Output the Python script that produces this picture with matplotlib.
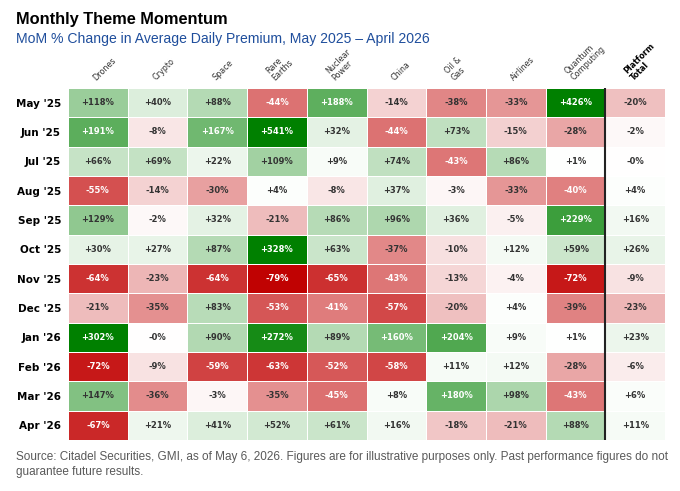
import numpy as np
import matplotlib
matplotlib.use("Agg")
import matplotlib.pyplot as plt
from matplotlib.colors import LinearSegmentedColormap, TwoSlopeNorm

# --- data ---
themes = ["Drones", "Crypto", "Space", "Rare\nEarths", "Nuclear\nPower", "China",
          "Oil &\nGas", "Airlines", "Quantum\nComputing", "Platform\nTotal"]
months = ["May '25", "Jun '25", "Jul '25", "Aug '25", "Sep '25", "Oct '25",
          "Nov '25", "Dec '25", "Jan '26", "Feb '26", "Mar '26", "Apr '26"]

may_25 = [118, 40, 88, -44, 188, -14, -38, -33, 426, -20]
jun_25 = [191, -8, 167, 541, 32, -44, 73, -15, -28, -2]
jul_25 = [66, 69, 22, 109, 9, 74, -43, 86, 1, -0.2]
aug_25 = [-55, -14, -30, 4, -8, 37, -3, -33, -40, 4]
sep_25 = [129, -2, 32, -21, 86, 96, 36, -5, 229, 16]
oct_25 = [30, 27, 87, 328, 63, -37, -10, 12, 59, 26]
nov_25 = [-64, -23, -64, -79, -65, -43, -13, -4, -72, -9]
dec_25 = [-21, -35, 83, -53, -41, -57, -20, 4, -39, -23]
jan_26 = [302, -0.2, 90, 272, 89, 160, 204, 9, 1, 23]
feb_26 = [-72, -9, -59, -63, -52, -58, 11, 12, -28, -6]
mar_26 = [147, -36, -3, -35, -45, 8, 180, 98, -43, 6]
apr_26 = [-67, 21, 41, 52, 61, 16, -18, -21, 88, 11]

vals = np.array([may_25, jun_25, jul_25, aug_25, sep_25, oct_25,
                 nov_25, dec_25, jan_26, feb_26, mar_26, apr_26], dtype=float)

# --- escala de color: rojo / blanco / verde ---
cmap = LinearSegmentedColormap.from_list("mom", ["#c00000", "#ffffff", "#008000"])
norm = TwoSlopeNorm(vmin=-80, vcenter=0, vmax=300)

fig = plt.figure(figsize=(6.8, 4.91), dpi=100)
ax = fig.add_axes([0.1, 0.104, 0.878, 0.717])

n_rows, n_cols = vals.shape
ax.pcolormesh(np.arange(n_cols + 1), np.arange(n_rows + 1), vals,
              cmap=cmap, norm=norm, edgecolors="white", linewidth=0.5)
ax.set_xlim(0, n_cols)
ax.set_ylim(n_rows, 0)

# valores en cada celda
for r in range(n_rows):
    for c in range(n_cols):
        v = vals[r, c]
        frac = v / -80 if v < 0 else v / 300
        col = "white" if frac >= 0.5 else "#333333"
        ax.text(c + 0.5, r + 0.5, f"{v:+.0f}%", ha="center", va="center",
                fontsize=6, fontweight="bold", color=col)

# separador antes del total
ax.axvline(n_cols - 1, color="#222222", linewidth=1.5)

# etiquetas
ax.set_yticks(np.arange(n_rows) + 0.5)
ax.set_yticklabels(months, fontsize=7.5, fontweight="bold")
ax.set_xticks(np.arange(n_cols) + 0.5)
ax.set_xticklabels([])
ax.tick_params(length=0, pad=5)
for c, t in enumerate(themes):
    last = c == n_cols - 1
    ax.text(c + 0.5, -0.2, t, rotation=45, ha="left", va="bottom",
            rotation_mode="anchor", fontsize=5.8, linespacing=1.0,
            color="black" if last else "#333333",
            fontweight="bold" if last else "normal")
for s in ax.spines.values():
    s.set_visible(False)

# --- títulos ---
fig.text(0.023, 0.975, "Monthly Theme Momentum", ha="left", va="top",
         fontsize=11.8, fontweight="bold", family="Liberation Sans")
fig.text(0.023, 0.935, "MoM % Change in Average Daily Premium, May 2025 \u2013 April 2026",
         ha="left", va="top", fontsize=10.1, color="#1f4e9c", family="Liberation Sans")
fig.text(0.023, 0.082,
         "Source: Citadel Securities, GMI, as of May 6, 2026. Figures are for illustrative purposes only. Past performance figures do not\nguarantee future results.",
         ha="left", va="top", fontsize=8.5, color="#595959", family="Liberation Sans",
         linespacing=1.4)

fig.savefig("out.png", dpi=100)
plt.close(fig)
